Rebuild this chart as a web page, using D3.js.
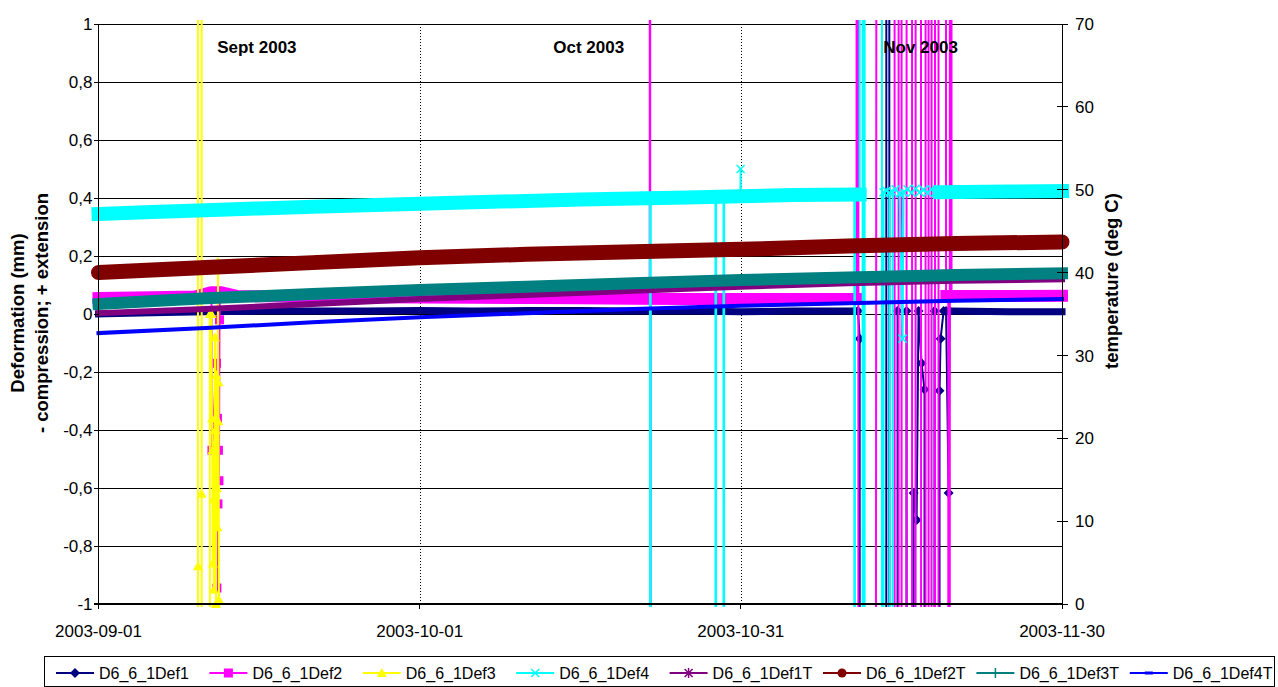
<!DOCTYPE html>
<html>
<head>
<meta charset="utf-8">
<script src="https://cdn.jsdelivr.net/npm/d3@7"></script>
<style>
  html, body { margin: 0; padding: 0; background: #fff; }
  svg { display: block; font-family: Arial, "Liberation Sans", sans-serif; }
</style>
</head>
<body>
<svg id="chart" width="1278" height="687"></svg>
<script>
// ---------------------------------------------------------------
// Data. Day numbers count (fractional) days from 2003-09-01 00:00.
// Values of 99 / -99 are logger error readings (far off scale).
// ---------------------------------------------------------------
const startDate = Date.UTC(2003, 8, 1);
const endDate = Date.UTC(2003, 10, 30);

const xTickLabels = ["2003-09-01", "2003-10-01", "2003-10-31", "2003-11-30"];
const leftTicks = [-1, -0.8, -0.6, -0.4, -0.2, 0, 0.2, 0.4, 0.6, 0.8, 1];
const rightTicks = [0, 10, 20, 30, 40, 50, 60, 70];
const monthLabels = ["Sept 2003", "Oct 2003", "Nov 2003"];
const monthLabelDates = ["2003-09-15T19:00Z", "2003-10-16T19:00Z", "2003-11-16T19:00Z"];
const seriesNames = ["D6_6_1Def1", "D6_6_1Def2", "D6_6_1Def3", "D6_6_1Def4",
                     "D6_6_1Def1T", "D6_6_1Def2T", "D6_6_1Def3T", "D6_6_1Def4T"];

// Deformation (mm) — steady readings
const def1Trend = [[0, 0.000], [5, 0.004], [10, 0.008], [15, 0.010], [20, 0.010], [25, 0.010],
  [30, 0.012], [35, 0.010], [40, 0.012], [45, 0.012], [50, 0.010], [55, 0.010], [60, 0.008],
  [65, 0.010], [70.6, 0.010], null, [79.68, 0.010], [85, 0.008], [90, 0.008]];
const def2Trend = [[0, 0.055], [5, 0.058], [9, 0.060], [10.5, 0.075], [11.5, 0.075], [13, 0.062],
  [20, 0.060], [25, 0.058], [30, 0.057], [35, 0.056], [40, 0.055], [45, 0.054], [50, 0.053],
  [55, 0.052], [60, 0.052], [65, 0.052], [70.8, 0.052], null, [79.2, 0.062], [85, 0.062], [90, 0.063]];
const def3Trend = [];
const def4Trend = [[0, 0.345], [5, 0.352], [10, 0.358], [15, 0.364], [20, 0.370], [25, 0.375],
  [30, 0.380], [35, 0.385], [40, 0.390], [45, 0.395], [50, 0.398], [55, 0.402], [60, 0.406],
  [65, 0.410], [71.1, 0.412], null, [78.6, 0.420], [85, 0.422], [90, 0.424]];

// Deformation (mm) — disturbed readings
const def1Events = [[70.63, 0.01], [70.95, 0.01], [71.10, -0.085], [71.19, -99], [73.57, -99],
  [73.61, 99], [73.85, 99], [73.89, -99], [74.60, -99], [74.64, 0.01], [75.48, 0.01], [75.58, -99],
  [76.09, -99], [76.14, -0.617], [76.42, -0.71], [76.60, 0.01], [76.88, -0.17], [77.16, -0.26],
  [77.25, -99], [78.05, -99], [78.09, 0.01], [78.28, -99], [78.52, -99], [78.56, -0.265],
  [78.66, -0.085], [78.94, 0.01], [79.17, 0.01], [79.41, -0.617], [79.50, 0.01]];
const def2Events = [[10.55, 0.07], [10.60, -0.47], [11.02, -0.17], [11.06, -0.945], [11.11, -0.36],
  [11.16, -0.655], [11.20, -0.47], [11.25, -0.575], [11.30, -0.02], [11.34, 0.07],
  [51.49, 0.05], [51.52, 99], [51.55, -99], [51.58, 0.05],
  [70.81, 0.053], [70.86, 99], [71.10, -99], [74.18, 99], [74.55, -99], [74.92, 99], [75.11, -99],
  [75.85, 99], [76.14, -99], [76.51, 99], [77.16, -99], [77.35, 99], [77.72, -99], [77.91, 99],
  [78.37, -99], [78.56, 99], [79.17, 0.062], [79.38, 0.062], [79.40, -99], [79.64, 99], [79.68, 0.062]];
const def3Events = [[9.24, -99], [9.29, -0.87], [9.32, 99], [9.61, 99], [9.64, -0.62], [9.66, -99],
  [10.36, -99], [10.40, 0.0], [10.50, 0.0], [10.55, 0.0], [10.60, -0.36], [10.64, -0.47],
  [10.69, -0.86], [10.74, -0.64], [10.78, -0.95], [10.88, -0.08], [10.92, -0.40], [10.97, -1.0],
  [11.02, -0.21], [11.06, -0.60], [11.11, -0.735], [11.16, 0.18], [11.19, -0.37], [11.21, -0.235],
  [11.25, -0.985], [11.30, -99]];
const def4Events = [[51.51, 0.398], [51.54, -99], [51.58, 0.398],
  [57.63, 0.404], [57.66, -99], [57.69, 0.404], [58.38, 0.405], [58.41, -99], [58.44, 0.405],
  [59.96, 0.406], [59.98, 0.50], [60.00, 0.406],
  [70.60, 0.411], [70.63, -99], [70.66, 0.411], [71.10, 0.412], [71.29, 99], [71.47, -99],
  [71.66, 99], [73.17, 99], [73.19, -99], [73.33, 0.42], [73.61, 0.425], [73.89, 0.418],
  [74.13, -99], [74.18, 0.42], [74.46, 0.43], [74.83, 0.415], [75.11, -0.085], [75.20, 0.42],
  [75.57, 0.43], [75.95, 0.418], [76.32, 0.432], [76.70, 0.42], [77.07, 0.428], [77.44, 0.418],
  [77.82, 0.43], [78.19, 0.42]];

// Temperature (deg C)
const def1TTrend = [[0, 35.1], [10, 35.6], [20, 36.2], [30, 36.8], [40, 37.3], [50, 37.8],
  [60, 38.3], [70, 38.7], [80, 39.0], [90, 39.2]];
const def2TTrend = [[0, 40.0], [10, 40.6], [20, 41.2], [30, 41.8], [40, 42.2], [50, 42.5],
  [60, 42.8], [70, 43.2], [80, 43.5], [90, 43.7]];
const def3TTrend = [[0, 36.2], [10, 36.9], [20, 37.4], [30, 37.9], [40, 38.3], [50, 38.7],
  [60, 39.1], [70, 39.4], [80, 39.7], [90, 39.9]];
const def4TTrend = [[0, 32.7], [10, 33.3], [20, 34.0], [30, 34.6], [40, 35.1], [50, 35.6],
  [60, 36.0], [70, 36.3], [80, 36.6], [90, 36.8]];

// ---------------------------------------------------------------
// Series styling
// ---------------------------------------------------------------
const series = [
  { name: seriesNames[0], trend: def1Trend, events: def1Events, axis: "L", color: "#000080", band: 7, marker: "diamond" },
  { name: seriesNames[1], trend: def2Trend, events: def2Events, axis: "L", color: "#FF00FF", band: 12, marker: "square" },
  { name: seriesNames[2], trend: def3Trend, events: def3Events, axis: "L", color: "#FFFF00", band: 8, marker: "triangle" },
  { name: seriesNames[3], trend: def4Trend, events: def4Events, axis: "L", color: "#00FFFF", band: 14, marker: "x" },
  { name: seriesNames[4], trend: def1TTrend, events: [], axis: "R", color: "#800080", band: 6, marker: "asterisk" },
  { name: seriesNames[5], trend: def2TTrend, events: [], axis: "R", color: "#800000", band: 15, marker: "circle", round: true },
  { name: seriesNames[6], trend: def3TTrend, events: [], axis: "R", color: "#008080", band: 12, marker: "plus" },
  { name: seriesNames[7], trend: def4TTrend, events: [], axis: "R", color: "#0000FF", band: 4, marker: "dash" }
];

// ---------------------------------------------------------------
// Layout & scales
// ---------------------------------------------------------------
const plot = { left: 98.5, right: 1062, top: 24, bottom: 604 };
const svg = d3.select("#chart");

const x = d3.scaleUtc().domain([new Date(startDate), new Date(endDate)]).range([plot.left, plot.right]);
const yL = d3.scaleLinear().domain([-1, 1]).range([plot.bottom, plot.top]);
const yR = d3.scaleLinear().domain([0, 70]).range([plot.bottom, plot.top]);
const toDate = d => new Date(startDate + d * 864e5);

svg.append("defs").append("clipPath").attr("id", "plotClip")
  .append("rect").attr("x", plot.left - 6).attr("y", plot.top - 4)
  .attr("width", plot.right - plot.left + 12).attr("height", plot.bottom - plot.top + 7);

// horizontal gridlines
svg.append("g").selectAll("line").data(leftTicks).join("line")
  .attr("x1", plot.left).attr("x2", plot.right)
  .attr("y1", d => Math.round(yL(d)) + 0.5).attr("y2", d => Math.round(yL(d)) + 0.5)
  .attr("stroke", "#000").attr("stroke-width", 1);

// vertical dotted gridlines (inner date ticks)
const xTickDates = xTickLabels.map(s => new Date(s + "T00:00Z"));
svg.append("g").selectAll("line").data(xTickDates.slice(1, -1)).join("line")
  .attr("x1", d => Math.round(x(d)) + 0.5).attr("x2", d => Math.round(x(d)) + 0.5)
  .attr("y1", plot.top).attr("y2", plot.bottom)
  .attr("stroke", "#000").attr("stroke-width", 1).attr("stroke-dasharray", "1,2");

// ---------------------------------------------------------------
// Marker shapes
// ---------------------------------------------------------------
function drawMarker(g, type, cx, cy, color, scale = 1) {
  const s = scale;
  switch (type) {
    case "diamond":
      g.append("path").attr("d", `M${cx},${cy - 5 * s}L${cx + 5 * s},${cy}L${cx},${cy + 5 * s}L${cx - 5 * s},${cy}Z`).attr("fill", color);
      break;
    case "square":
      g.append("rect").attr("x", cx - 4.5 * s).attr("y", cy - 4.5 * s).attr("width", 9 * s).attr("height", 9 * s).attr("fill", color);
      break;
    case "triangle":
      g.append("path").attr("d", `M${cx},${cy - 5 * s}L${cx + 5 * s},${cy + 4 * s}L${cx - 5 * s},${cy + 4 * s}Z`).attr("fill", color);
      break;
    case "x":
      g.append("path").attr("d", `M${cx - 4 * s},${cy - 4 * s}L${cx + 4 * s},${cy + 4 * s}M${cx + 4 * s},${cy - 4 * s}L${cx - 4 * s},${cy + 4 * s}`)
        .attr("stroke", color).attr("stroke-width", 1.5).attr("fill", "none");
      break;
    case "asterisk":
      g.append("path").attr("d", `M${cx - 4 * s},${cy - 4 * s}L${cx + 4 * s},${cy + 4 * s}M${cx + 4 * s},${cy - 4 * s}L${cx - 4 * s},${cy + 4 * s}M${cx},${cy - 5 * s}L${cx},${cy + 5 * s}`)
        .attr("stroke", color).attr("stroke-width", 1.5).attr("fill", "none");
      break;
    case "circle":
      g.append("circle").attr("cx", cx).attr("cy", cy).attr("r", 4.5 * s).attr("fill", color);
      break;
    case "plus":
      g.append("path").attr("d", `M${cx - 5 * s},${cy}L${cx + 5 * s},${cy}M${cx},${cy - 5 * s}L${cx},${cy + 5 * s}`)
        .attr("stroke", color).attr("stroke-width", 1.5).attr("fill", "none");
      break;
    case "dash":
      g.append("rect").attr("x", cx - 4 * s).attr("y", cy - 1.5 * s).attr("width", 8 * s).attr("height", 3 * s).attr("fill", color);
      break;
  }
}

// ---------------------------------------------------------------
// Series
// ---------------------------------------------------------------
const seriesLayer = svg.append("g");
series.forEach(s => {
  const y = s.axis === "L" ? yL : yR;
  const g = seriesLayer.append("g");
  const line = d3.line().defined(p => p !== null).x(p => x(toDate(p[0]))).y(p => y(p[1]));

  // dense run of readings, drawn as a thick band
  if (s.trend.length) {
    g.append("path").attr("d", line(s.trend))
      .attr("fill", "none").attr("stroke", s.color).attr("stroke-width", s.band)
      .attr("stroke-linecap", s.round ? "round" : "square").attr("stroke-linejoin", "round");
  }

  // full trace, including the off-scale readings
  const all = s.trend.filter(p => p !== null).concat(s.events).sort((a, b) => a[0] - b[0]);
  g.append("path").attr("d", line(all)).attr("clip-path", "url(#plotClip)")
    .attr("fill", "none").attr("stroke", s.color).attr("stroke-width", 2).attr("stroke-linejoin", "round");

  // markers on the isolated readings that fall inside the scale
  const dom = y.domain();
  s.events.filter(p => p[1] >= dom[0] && p[1] <= dom[1]).forEach(p => {
    drawMarker(g, s.marker, x(toDate(p[0])), y(p[1]), s.color);
  });
});

// ---------------------------------------------------------------
// Axes
// ---------------------------------------------------------------
const axisG = svg.append("g").attr("stroke", "#000").attr("shape-rendering", "crispEdges");
axisG.append("line").attr("x1", plot.left).attr("x2", plot.left).attr("y1", plot.top).attr("y2", plot.bottom + 5);
axisG.append("line").attr("x1", plot.right).attr("x2", plot.right).attr("y1", plot.top).attr("y2", plot.bottom + 5);
axisG.append("line").attr("x1", plot.left - 5).attr("x2", plot.right).attr("y1", plot.bottom).attr("y2", plot.bottom).attr("stroke-width", 1.5);

const numFmt = d => d3.format(".1~f")(d).replace(".", ",").replace("\u2212", "-");

// left ticks + labels
axisG.selectAll(".lt").data(leftTicks).join("line")
  .attr("x1", plot.left - 5).attr("x2", plot.left).attr("y1", d => yL(d)).attr("y2", d => yL(d));
svg.append("g").selectAll("text").data(leftTicks).join("text")
  .attr("x", plot.left - 6).attr("y", d => yL(d)).attr("dy", "0.36em")
  .attr("text-anchor", "end").attr("font-size", 17).attr("fill", "#000")
  .text(numFmt);

// right ticks + labels
axisG.selectAll(".rt").data(rightTicks).join("line")
  .attr("x1", plot.right - 5).attr("x2", plot.right + 6).attr("y1", d => yR(d)).attr("y2", d => yR(d));
svg.append("g").selectAll("text").data(rightTicks).join("text")
  .attr("x", plot.right + 13).attr("y", d => yR(d)).attr("dy", "0.36em")
  .attr("text-anchor", "start").attr("font-size", 17).attr("fill", "#000")
  .text(d => d);

// bottom ticks + labels
axisG.selectAll(".bt").data(xTickDates).join("line")
  .attr("x1", d => x(d)).attr("x2", d => x(d)).attr("y1", plot.bottom).attr("y2", plot.bottom + 5);
svg.append("g").selectAll("text").data(xTickDates).join("text")
  .attr("x", d => x(d)).attr("y", 637)
  .attr("text-anchor", "middle").attr("font-size", 17).attr("fill", "#000")
  .text((d, i) => xTickLabels[i]);

// month captions
svg.append("g").selectAll("text").data(monthLabels).join("text")
  .attr("x", (d, i) => x(new Date(monthLabelDates[i]))).attr("y", 53)
  .attr("text-anchor", "middle").attr("font-size", 17).attr("font-weight", "bold").attr("fill", "#000")
  .text(d => d);

// axis titles
const lt = svg.append("g").attr("font-size", 18.5).attr("font-weight", "bold").attr("fill", "#000").attr("text-anchor", "middle");
lt.append("text").attr("transform", "translate(24,313) rotate(-90)").text("Deformation (mm)");
lt.append("text").attr("transform", "translate(48,313) rotate(-90)").text("- compression; + extension");
lt.append("text").attr("transform", "translate(1118,281) rotate(-90)").text("temperature (deg C)");

// ---------------------------------------------------------------
// Legend
// ---------------------------------------------------------------
const legend = svg.append("g");
legend.append("rect").attr("x", 44.5).attr("y", 656.5).attr("width", 1230).attr("height", 30)
  .attr("fill", "#fff").attr("stroke", "#000").attr("stroke-width", 1);
series.forEach((s, i) => {
  const lx = 56 + i * 153.4, ly = 673;
  const g = legend.append("g");
  g.append("line").attr("x1", lx).attr("x2", lx + 38).attr("y1", ly).attr("y2", ly)
    .attr("stroke", s.color).attr("stroke-width", 2);
  drawMarker(g, s.marker, lx + 19, ly, s.color);
  g.append("text").attr("x", lx + 43).attr("y", ly).attr("dy", "0.36em")
    .attr("font-size", 16).attr("fill", "#000").text(s.name);
});
</script>
</body>
</html>
